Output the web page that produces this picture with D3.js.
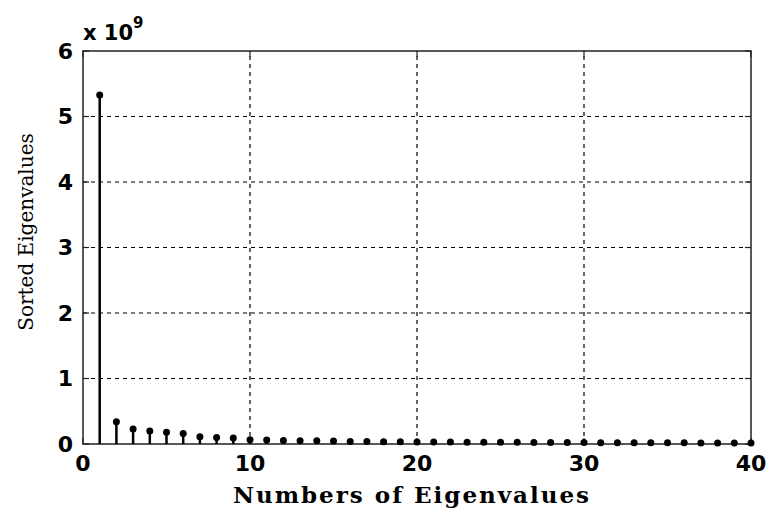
<!DOCTYPE html>
<html>
<head>
<meta charset="utf-8">
<script src="https://cdn.jsdelivr.net/npm/d3@7"></script>
<style>
  body { margin: 0; background: #fff; }
</style>
</head>
<body>
<div id="chart"></div>
<script>
// eigenvalue index and value (in units of 1e9)
const indices = d3.range(1, 41);
const eigenvalues = [5.33, 0.34, 0.23, 0.2, 0.18, 0.16, 0.11, 0.1, 0.09, 0.065,
    0.06, 0.055, 0.05, 0.048, 0.045, 0.04, 0.038, 0.036, 0.034, 0.032,
    0.03, 0.029, 0.028, 0.027, 0.026, 0.025, 0.024, 0.023, 0.022, 0.021,
    0.02, 0.02, 0.019, 0.019, 0.018, 0.018, 0.017, 0.017, 0.016, 0.016];
const xTicks = [0, 10, 20, 30, 40];
const yTicks = [0, 1, 2, 3, 4, 5, 6];

const width = 771, height = 516;
const margin = {top: 51, right: 20, bottom: 72, left: 83};

const svg = d3.select('#chart')
    .append('svg')
    .attr('width', width)
    .attr('height', height);

const x = d3.scaleLinear().domain([0, 40]).range([margin.left, width - margin.right]);
const y = d3.scaleLinear().domain([0, 6]).range([height - margin.bottom, margin.top]);

// grid
svg.append('g')
    .attr('stroke', '#000')
    .attr('stroke-width', 1.2)
    .attr('stroke-dasharray', '4,4')
  .selectAll('line.gx')
  .data(xTicks.slice(1, -1))
  .join('line')
    .attr('x1', d => x(d)).attr('x2', d => x(d))
    .attr('y1', y(0)).attr('y2', y(6));

svg.append('g')
    .attr('stroke', '#000')
    .attr('stroke-width', 1.2)
    .attr('stroke-dasharray', '4,4')
  .selectAll('line')
  .data(yTicks.slice(1, -1))
  .join('line')
    .attr('x1', x(0)).attr('x2', x(40))
    .attr('y1', d => y(d)).attr('y2', d => y(d));

// box
svg.append('rect')
    .attr('x', x(0)).attr('y', y(6))
    .attr('width', x(40) - x(0)).attr('height', y(0) - y(6))
    .attr('fill', 'none')
    .attr('stroke', '#222')
    .attr('stroke-width', 1.5);

// inward ticks
const tickLen = 6;
svg.append('g').attr('stroke', '#222').attr('stroke-width', 1.2)
  .selectAll('line')
  .data(xTicks)
  .join(enter => {
      const g = enter.append('g');
      g.append('line').attr('x1', d => x(d)).attr('x2', d => x(d))
          .attr('y1', y(0)).attr('y2', y(0) - tickLen);
      g.append('line').attr('x1', d => x(d)).attr('x2', d => x(d))
          .attr('y1', y(6)).attr('y2', y(6) + tickLen);
      return g;
  });
svg.append('g').attr('stroke', '#222').attr('stroke-width', 1.2)
  .selectAll('g')
  .data(yTicks)
  .join(enter => {
      const g = enter.append('g');
      g.append('line').attr('x1', x(0)).attr('x2', x(0) + tickLen)
          .attr('y1', d => y(d)).attr('y2', d => y(d));
      g.append('line').attr('x1', x(40)).attr('x2', x(40) - tickLen)
          .attr('y1', d => y(d)).attr('y2', d => y(d));
      return g;
  });

const tickFont = 'DejaVu Sans, Verdana, sans-serif';

// tick labels
svg.append('g')
    .attr('font-family', tickFont)
    .attr('font-weight', 'bold')
    .attr('font-size', 22)
    .attr('text-anchor', 'middle')
  .selectAll('text')
  .data(xTicks)
  .join('text')
    .attr('x', d => x(d))
    .attr('y', y(0) + 27)
    .text(d => d);

svg.append('g')
    .attr('font-family', tickFont)
    .attr('font-weight', 'bold')
    .attr('font-size', 22)
    .attr('text-anchor', 'end')
  .selectAll('text')
  .data(yTicks)
  .join('text')
    .attr('x', x(0) - 10)
    .attr('y', d => y(d))
    .attr('dy', '0.36em')
    .text(d => d);

// exponent
const expo = svg.append('text')
    .attr('x', x(0))
    .attr('y', y(6) - 11)
    .attr('font-family', tickFont)
    .attr('font-weight', 'bold')
    .attr('font-size', 21);
expo.append('tspan').text('x 10');
expo.append('tspan').attr('dy', -12).attr('font-size', 15).text('9');

// stems
svg.append('g')
    .attr('stroke', '#000')
    .attr('stroke-width', 2.5)
  .selectAll('line')
  .data(indices)
  .join('line')
    .attr('x1', d => x(d)).attr('x2', d => x(d))
    .attr('y1', y(0))
    .attr('y2', (d, i) => y(eigenvalues[i]));

svg.append('g')
    .attr('fill', '#000')
  .selectAll('circle')
  .data(indices)
  .join('circle')
    .attr('cx', d => x(d))
    .attr('cy', (d, i) => y(eigenvalues[i]))
    .attr('r', 3.5);

// axis labels
svg.append('text')
    .attr('x', (x(0) + x(40)) / 2 - 5)
    .attr('y', height - 13)
    .attr('text-anchor', 'middle')
    .attr('font-family', 'DejaVu Serif, Liberation Serif, serif')
    .attr('font-weight', 'bold')
    .attr('font-size', 23)
    .attr('letter-spacing', 2)
    .text('Numbers of Eigenvalues');

svg.append('text')
    .attr('transform', 'translate(33,232) rotate(-90)')
    .attr('text-anchor', 'middle')
    .attr('font-family', 'DejaVu Serif, Liberation Serif, serif')
    .attr('font-size', 20)
    .text('Sorted Eigenvalues');
</script>
</body>
</html>
